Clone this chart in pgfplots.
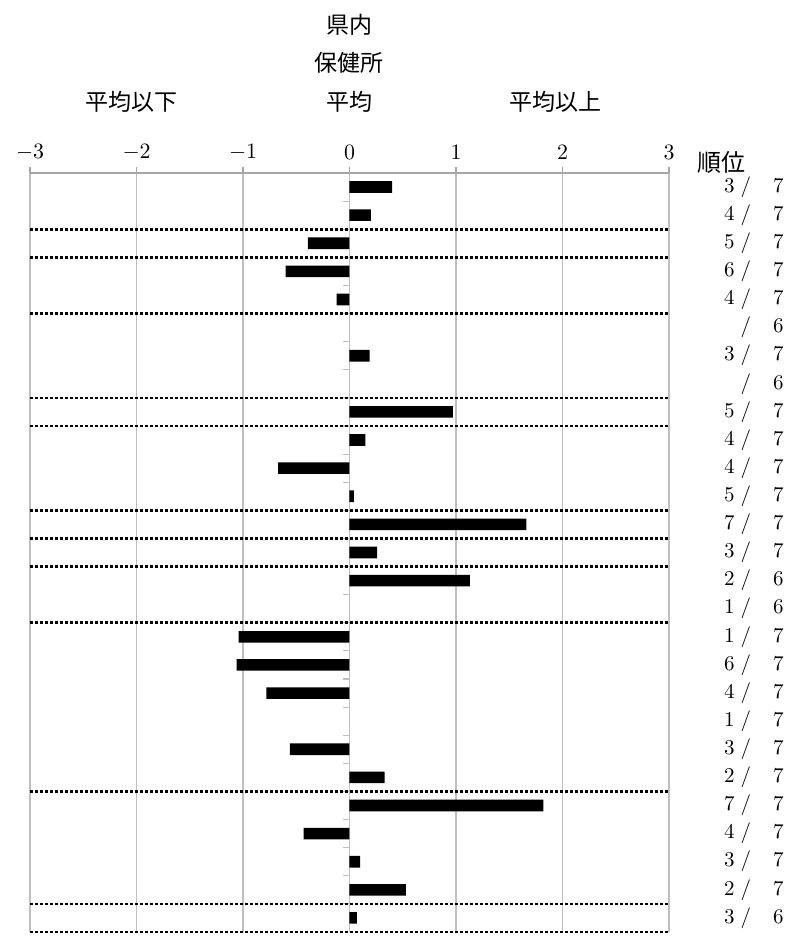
\documentclass[border=0pt]{standalone}
\usepackage{pgfplots}
\pgfplotsset{compat=1.18}
\usepackage{fontspec}
\newfontfamily\jp{Noto Sans CJK JP}
\definecolor{gridgray}{HTML}{BFBFBF}
\definecolor{axgray}{HTML}{A6A6A6}
\newcommand{\rk}[2]{#1\hspace{3pt}/\hspace{11pt}#2}
\begin{document}
\begin{tikzpicture}
\useasboundingbox (0,0) rectangle (404pt,468pt);
\begin{axis}[
  at={(15pt,2pt)}, anchor=south west, scale only axis,
  width=319.5pt, height=379.5pt,
  xmin=-3, xmax=3, ymin=0.5, ymax=27.5,
  axis x line*=top, axis y line*=center,
  x axis line style={draw=axgray, line width=0.7pt},
  y axis line style={draw=gridgray, line width=0.6pt},
  xtick={-3,-2,-1,0,1,2,3},
  xticklabel style={font=\fontsize{10.5}{12}\selectfont},
  xtick style={draw=axgray, line width=0.6pt},
  xtick align=outside,
  major tick length=3pt,
  xmajorgrids,
  major grid style={draw=gridgray, line width=0.6pt},
  ytick={1.5,2.5,...,26.5}, yticklabels={},
  ytick style={draw=gridgray, line width=0.6pt},
  ytick align=outside,
  extra y ticks={0.5,1.5,5.5,11.5,13.5,14.5,15.5,18.5,19.5,22.5,24.5,25.5},
  extra y tick labels={},
  extra y tick style={ymajorgrids=true, major tick length=0pt,
     major grid style={draw=black, line width=1.3pt, dash pattern=on 1.5pt off 1pt}},
]
\addplot[xbar, bar width=5.8pt, bar shift=0pt, fill=black, draw=none] coordinates {
(0.40,27) (0.20,26) (-0.39,25) (-0.60,24) (-0.12,23)
(0.19,21) (0.97,19) (0.15,18) (-0.67,17) (0.04,16)
(1.66,15) (0.26,14) (1.13,13) (-1.04,11) (-1.06,10)
(-0.78,9) (-0.56,7) (0.33,6) (1.82,5) (-0.43,4)
(0.10,3) (0.53,2) (0.07,1)
};
\end{axis}
\begin{axis}[
  at={(15pt,2pt)}, anchor=south west, scale only axis,
  width=319.5pt, height=379.5pt,
  xmin=-3, xmax=3, ymin=0.5, ymax=27.5,
  hide x axis, axis y line*=right, y axis line style={draw=none},
  ytick={1,...,27}, major tick length=0pt,
  yticklabel style={anchor=west, xshift=24pt, font=\fontsize{10.5}{12}\selectfont},
  yticklabels={\rk{3}{6},\rk{2}{7},\rk{3}{7},\rk{4}{7},\rk{7}{7},\rk{2}{7},\rk{3}{7},\rk{1}{7},\rk{4}{7},\rk{6}{7},\rk{1}{7},\rk{1}{6},\rk{2}{6},\rk{3}{7},\rk{7}{7},\rk{5}{7},\rk{4}{7},\rk{4}{7},\rk{5}{7},\rk{\phantom{0}}{6},\rk{3}{7},\rk{\phantom{0}}{6},\rk{4}{7},\rk{6}{7},\rk{5}{7},\rk{4}{7},\rk{3}{7}},
]
\addplot[draw=none] coordinates {(0,1) (0,27)};
\end{axis}
\node[font=\jp\fontsize{11.5}{13}\selectfont] at (65.5pt,417pt) {平均以下};
\node[font=\jp\fontsize{11.5}{13}\selectfont] at (174.5pt,455.5pt) {県内};
\node[font=\jp\fontsize{11.5}{13}\selectfont] at (174.5pt,436.5pt) {保健所};
\node[font=\jp\fontsize{11.5}{13}\selectfont] at (174.5pt,417pt) {平均};
\node[font=\jp\fontsize{11.5}{13}\selectfont] at (277.5pt,417pt) {平均以上};
\node[font=\jp\fontsize{12}{13}\selectfont, anchor=west, inner sep=0pt] at (348.5pt,387pt) {順位};
\end{tikzpicture}
\end{document}
